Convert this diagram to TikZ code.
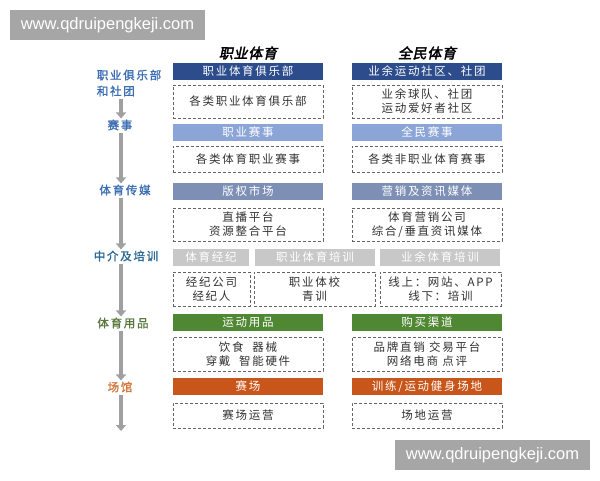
\documentclass[tikz,border=0pt]{standalone}
\usepackage{fontspec}
\setmainfont{Noto Sans CJK SC}[LetterSpace=15]
\newfontfamily\labelfont[FakeBold=1.5,LetterSpace=15]{Noto Sans CJK SC}
\newfontfamily\titlefont[FakeBold=2.5,FakeSlant=0.2,LetterSpace=5]{Noto Sans CJK SC}
\newfontfamily\webfont{Liberation Sans}
\usetikzlibrary{arrows.meta}

\definecolor{clubblue}{RGB}{44,76,140}
\definecolor{matchblue}{RGB}{140,165,215}
\definecolor{mediablue}{RGB}{125,143,180}
\definecolor{agentgray}{RGB}{200,200,200}
\definecolor{goodsgreen}{RGB}{80,135,50}
\definecolor{venueorange}{RGB}{200,85,25}
\definecolor{labblue}{RGB}{60,110,180}
\definecolor{labteal}{RGB}{45,105,150}
\definecolor{labgreen}{RGB}{90,120,60}
\definecolor{laborange}{RGB}{210,120,60}
\definecolor{arrowgray}{RGB}{160,160,160}
\definecolor{boxgray}{RGB}{100,100,100}
\definecolor{textgray}{RGB}{50,50,50}
\definecolor{webgray}{RGB}{166,166,166}

\begin{document}
\begin{tikzpicture}[
				x=1pt, y=-1pt,
				every node/.style={inner sep=0pt, align=center},
				head/.style={minimum height=17pt, text=white, font=\fontsize{11.5}{13.5}\selectfont},
				dbox/.style={draw=boxgray, dash pattern=on 3pt off 2pt, line width=0.8pt, text=textgray, font=\fontsize{11.5}{14}\selectfont},
				lab/.style={font=\labelfont\fontsize{11.5}{16}\selectfont},
				colhead/.style={font=\titlefont\fontsize{14}{16}\selectfont},
				flow/.style={draw=arrowgray, line width=4pt, -{Triangle[width=10pt,length=6pt]}, shorten <=2pt, shorten >=1pt},
				web/.style={fill=webgray, text=white, minimum width=195pt, minimum height=30pt, font=\webfont\fontsize{16.5}{18}\selectfont}
				]
				
				\fill[white] (0,0) rectangle (600,480);
				\useasboundingbox (0,0) rectangle (600,480);
				
				% column titles
				\node[colhead] (t1) at (248,53) {职业体育};
				\node[colhead] (t2) at (427,53) {全民体育};
				
				% clubs
				\node[head, fill=clubblue, minimum width=150pt] (h1l) at (248,71.5) {职业体育俱乐部};
				\node[head, fill=clubblue, minimum width=150pt] (h1r) at (427,71.5) {业余运动社区、社团};
				\node[dbox, minimum width=150pt, minimum height=33pt] (b1l) at (248,101.5) {各类职业体育俱乐部};
				\node[dbox, minimum width=150pt, minimum height=33pt] (b1r) at (427,101.5) {业余球队、社团\\运动爱好者社区};
				
				% matches
				\node[head, fill=matchblue, minimum width=150pt] (h2l) at (248,132.5) {职业赛事};
				\node[head, fill=matchblue, minimum width=150pt] (h2r) at (427,132.5) {全民赛事};
				\node[dbox, minimum width=150pt, minimum height=26pt] (b2l) at (248,159) {各类体育职业赛事};
				\node[dbox, minimum width=150pt, minimum height=26pt] (b2r) at (427,159) {各类非职业体育赛事};
				
				% media
				\node[head, fill=mediablue, minimum width=150pt] (h3l) at (248,191.5) {版权市场};
				\node[head, fill=mediablue, minimum width=150pt] (h3r) at (427,191.5) {营销及资讯媒体};
				\node[dbox, minimum width=150pt, minimum height=33pt] (b3l) at (248,224.5) {直播平台\\资源整合平台};
				\node[dbox, minimum width=150pt, minimum height=33pt] (b3r) at (427,224.5) {体育营销公司\\综合/垂直资讯媒体};
				
				% agents and training
				\node[head, fill=agentgray, minimum width=76pt] (h4a) at (211,257.5) {体育经纪};
				\node[head, fill=agentgray, minimum width=120pt] (h4b) at (315,257.5) {职业体育培训};
				\node[head, fill=agentgray, minimum width=120pt] (h4c) at (440,257.5) {业余体育培训};
				\node[dbox, minimum width=77pt, minimum height=34pt] (b4a) at (211.5,289) {经纪公司\\经纪人};
				\node[dbox, minimum width=121pt, minimum height=34pt] (b4b) at (314.5,289) {职业体校\\青训};
				\node[dbox, minimum width=121pt, minimum height=34pt] (b4c) at (440.5,289) {线上：网站、APP\\线下：培训};
				
				% goods
				\node[head, fill=goodsgreen, minimum width=150pt] (h5l) at (248,322.5) {运动用品};
				\node[head, fill=goodsgreen, minimum width=150pt] (h5r) at (427,322.5) {购买渠道};
				\node[dbox, minimum width=150pt, minimum height=34pt] (b5l) at (248,354) {饮食\ \ 器械\\穿戴\ \ 智能硬件};
				\node[dbox, minimum width=150pt, minimum height=34pt] (b5r) at (427,354) {品牌直销 交易平台\\网络电商 点评};
				
				% venues
				\node[head, fill=venueorange, minimum width=150pt] (h6l) at (248,386.5) {赛场};
				\node[head, fill=venueorange, minimum width=150pt] (h6r) at (427,386.5) {训练/运动健身场地};
				\node[dbox, minimum width=150pt, minimum height=25pt] (b6l) at (248,415.5) {赛场运营};
				\node[dbox, minimum width=150pt, minimum height=25pt] (b6r) at (427,415.5) {场地运营};
				
				% chain on the left
				\node[lab, align=left, text=labblue] (l1) at (129,83) {职业俱乐部\\和社团};
				\node[lab, text=labblue] (l2) at (120,125) {赛事};
				\node[lab, text=labblue] (l3) at (125,190) {体育传媒};
				\node[lab, text=labteal] (l4) at (126,256) {中介及培训};
				\node[lab, text=labgreen] (l5) at (123,323) {体育用品};
				\node[lab, text=laborange] (l6) at (120,387) {场馆};
				
				\coordinate (ax) at (121,0);
				\coordinate (aend) at (121,432);
				\draw[flow] (l1.south -| ax) -- (l2.north -| ax);
				\draw[flow] (l2.south -| ax) -- (l3.north -| ax);
				\draw[flow] (l3.south -| ax) -- (l4.north -| ax);
				\draw[flow] (l4.south -| ax) -- (l5.north -| ax);
				\draw[flow] (l5.south -| ax) -- (l6.north -| ax);
				\draw[flow] (l6.south -| ax) -- (aend);
				
				% site marks
				\node[web] (w1) at (107.5,25) {www.qdruipengkeji.com};
				\node[web] (w2) at (492.5,455) {www.qdruipengkeji.com};
				
			\end{tikzpicture}
\end{document}
